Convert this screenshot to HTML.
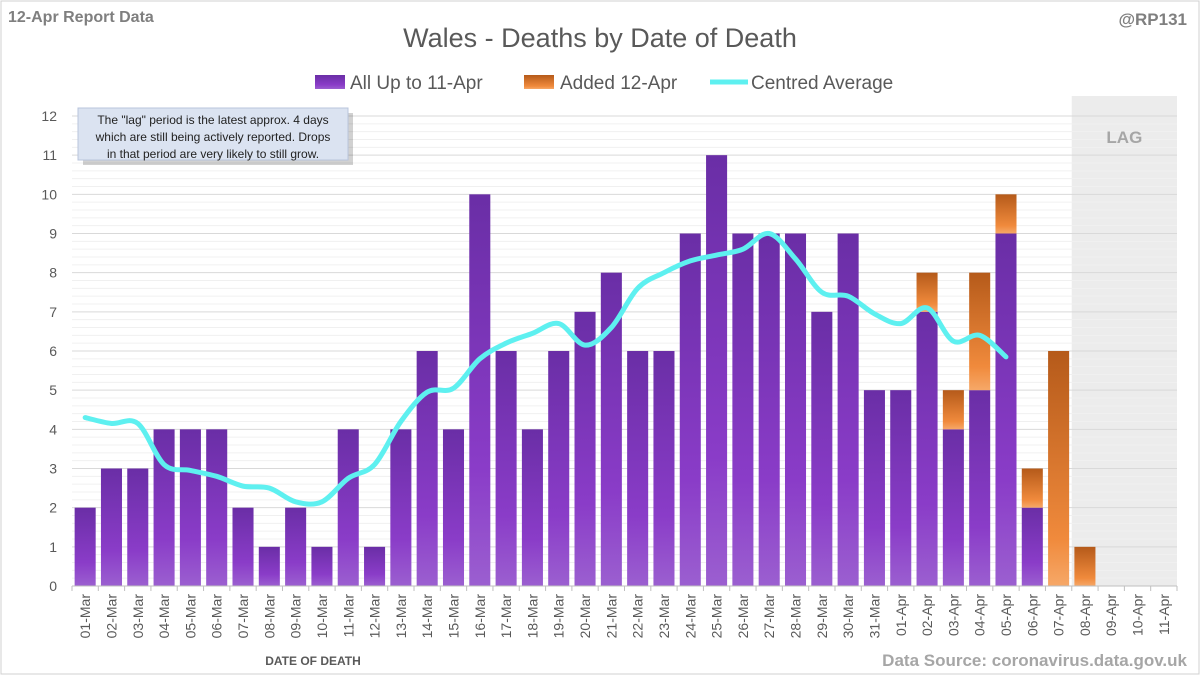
<!DOCTYPE html>
<html><head><meta charset="utf-8"><style>
body{margin:0;background:#fff;font-family:"Liberation Sans",sans-serif}
#wrap{position:relative;width:1200px;height:675px;overflow:hidden}
</style></head><body>
<div id="wrap">
<svg id="chart" width="1200" height="675">
<defs>
<linearGradient id="gp" x1="0" y1="0" x2="0" y2="1"><stop offset="0" stop-color="#6a2ea6"/><stop offset="0.7" stop-color="#8a3cc8"/><stop offset="1" stop-color="#9b5fd0"/></linearGradient>
<linearGradient id="go" x1="0" y1="0" x2="0" y2="1"><stop offset="0" stop-color="#b55a1a"/><stop offset="0.8" stop-color="#f08a3c"/><stop offset="1" stop-color="#f6a868"/></linearGradient>
</defs>
<rect x="1" y="1" width="1198" height="673" fill="#fff" stroke="#d0d0d0"/>
<g id="grid"></g>
<g id="bars"></g>
<g id="line"></g>
<g id="axes"></g>
<text x="8" y="22" font-size="16" font-weight="bold" fill="#7f7f7f">12-Apr Report Data</text>
<text x="1187" y="25" text-anchor="end" font-size="17" font-weight="bold" fill="#7f7f7f">@RP131</text>
<text x="600" y="47" text-anchor="middle" font-size="27" fill="#595959">Wales - Deaths by Date of Death</text>
<g>
<rect x="315" y="75" width="30" height="14" fill="url(#gp)"/>
<text x="350" y="89" font-size="19" fill="#595959">All Up to 11-Apr</text>
<rect x="524" y="75" width="30" height="14" fill="url(#go)"/>
<text x="560" y="89" font-size="19" fill="#595959">Added 12-Apr</text>
<line x1="710" y1="82" x2="748" y2="82" stroke="#5ef0f0" stroke-width="5"/>
<text x="751" y="89" font-size="19" fill="#595959">Centred Average</text>
</g>
<g>
<rect x="80" y="110" width="270" height="52" fill="#000" opacity="0.18" transform="translate(3,3)"/>
<rect x="78" y="108" width="270" height="52" fill="#dbe3f1" stroke="#b8c4dc"/>
<text font-size="12" fill="#222" text-anchor="middle"><tspan x="213" y="124">The "lag" period is the latest approx. 4 days</tspan><tspan x="213" y="141">which are still being actively reported.  Drops</tspan><tspan x="213" y="158">in that period are very likely to still grow.</tspan></text>
</g>
<text x="313" y="665" text-anchor="middle" font-size="12" font-weight="bold" fill="#595959">DATE OF DEATH</text>
<text x="1187" y="666" text-anchor="end" font-size="17" font-weight="bold" fill="#a6a6a6">Data Source: coronavirus.data.gov.uk</text>
</svg></div>
<script>
const categories=["01-Mar","02-Mar","03-Mar","04-Mar","05-Mar","06-Mar","07-Mar","08-Mar","09-Mar","10-Mar","11-Mar","12-Mar","13-Mar","14-Mar","15-Mar","16-Mar","17-Mar","18-Mar","19-Mar","20-Mar","21-Mar","22-Mar","23-Mar","24-Mar","25-Mar","26-Mar","27-Mar","28-Mar","29-Mar","30-Mar","31-Mar","01-Apr","02-Apr","03-Apr","04-Apr","05-Apr","06-Apr","07-Apr","08-Apr","09-Apr","10-Apr","11-Apr"];
const existing=[2,3,3,4,4,4,2,1,2,1,4,1,4,6,4,10,6,4,6,7,8,6,6,9,11,9,9,9,7,9,5,5,7,4,5,9,2,0,0,0,0,0];
const added=[0,0,0,0,0,0,0,0,0,0,0,0,0,0,0,0,0,0,0,0,0,0,0,0,0,0,0,0,0,0,0,0,1,1,3,1,1,6,1,0,0,0];
const average=[4.3,4.15,4.15,3.1,2.95,2.8,2.55,2.5,2.15,2.15,2.75,3.1,4.2,4.95,5.05,5.8,6.2,6.45,6.7,6.15,6.6,7.6,8.0,8.3,8.45,8.6,9.0,8.35,7.5,7.4,6.95,6.7,7.1,6.25,6.4,5.85];
const yTicks=[0,1,2,3,4,5,6,7,8,9,10,11,12];
const lagStart=38;
const NS="http://www.w3.org/2000/svg";
const L=72,R=1177,T=116,B=586,yMax=12;
const bw=(R-L)/categories.length;
const X=i=>L+(i+0.5)*bw;
const Y=v=>B-(v/yMax)*(B-T);
function mk(tag,attrs,parent){const e=document.createElementNS(NS,tag);for(const k in attrs)e.setAttribute(k,attrs[k]);parent.appendChild(e);return e;}
const grid=document.getElementById('grid'),bars=document.getElementById('bars'),line=document.getElementById('line'),axes=document.getElementById('axes');
const lag=mk('rect',{x:L+lagStart*bw,y:T-20,width:R-(L+lagStart*bw),height:B-T+20,fill:'#ececec'},grid);


for(let v=0;v<=yMax;v+=0.2){const g=mk('line',{x1:L,x2:R,y1:Y(v),y2:Y(v),stroke:Math.abs(v-Math.round(v))<0.01?'#d9d9d9':'#f0f0f0','stroke-width':1},grid);

}
const lt=mk('text',{x:(L+lagStart*bw+R)/2,y:T+27,'text-anchor':'middle','font-size':17,'font-weight':'bold',fill:'#a6a6a6'},grid);lt.textContent='LAG';


yTicks.forEach(v=>{const t=mk('text',{x:57,y:Y(v)+5,'text-anchor':'end','font-size':14,fill:'#595959'},axes);t.textContent=v;

});
mk('line',{x1:L,x2:R,y1:B,y2:B,stroke:'#bfbfbf'},axes);
categories.forEach((c,i)=>{
 const w=bw*0.8,x=X(i)-w/2;
 if(existing[i]>0){const r=mk('rect',{x:x,y:Y(existing[i]),width:w,height:B-Y(existing[i]),fill:'url(#gp)'},bars);
 
 }
 if(added[i]>0){const r=mk('rect',{x:x,y:Y(existing[i]+added[i]),width:w,height:Y(existing[i])-Y(existing[i]+added[i]),fill:'url(#go)'},bars);
 
 }
 mk('line',{x1:L+i*bw,x2:L+i*bw,y1:B,y2:B+5,stroke:'#bfbfbf'},axes);
 const t=mk('text',{x:0,y:0,'text-anchor':'end','font-size':14,fill:'#595959',transform:`translate(${X(i)+5},${B+8}) rotate(-90)`},axes);t.textContent=c;
 
 
});
mk('line',{x1:R,x2:R,y1:B,y2:B+5,stroke:'#bfbfbf'},axes);
const pts=average.map((v,i)=>[X(i),Y(v)]);
let d=`M${pts[0][0]},${pts[0][1]}`;
for(let i=0;i<pts.length-1;i++){const p0=pts[i-1]||pts[i],p1=pts[i],p2=pts[i+1],p3=pts[i+2]||p2;
 d+=` C${p1[0]+(p2[0]-p0[0])/6},${p1[1]+(p2[1]-p0[1])/6} ${p2[0]-(p3[0]-p1[0])/6},${p2[1]-(p3[1]-p1[1])/6} ${p2[0]},${p2[1]}`;}
const pl=mk('path',{d:d,fill:'none',stroke:'#5ef0f0','stroke-width':5,'stroke-linecap':'round'},line);


</script></body></html>
